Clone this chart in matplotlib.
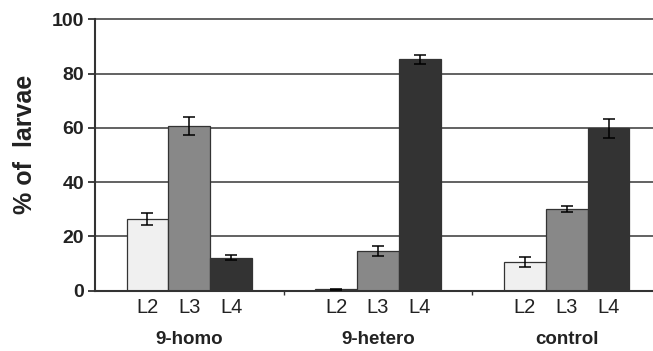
import matplotlib
matplotlib.use("Agg")
import matplotlib.pyplot as plt
import matplotlib.transforms as mtransforms
import numpy as np

groups = ["9-homo", "9-hetero", "control"]
stages = ["L2", "L3", "L4"]
values = {
    "L2": [26.3, 0.5, 10.6],
    "L3": [60.6, 14.7, 30.1],
    "L4": [12.2, 85.3, 59.8],
}
errors = {
    "L2": [2.2, 0.3, 2.0],
    "L3": [3.3, 1.8, 1.2],
    "L4": [0.8, 1.6, 3.6],
}
colors = {"L2": "#f0f0f0", "L3": "#888888", "L4": "#333333"}
yticks = [0, 20, 40, 60, 80, 100]

plt.rcParams['font.family'] = ['Liberation Sans', 'DejaVu Sans']

fig = plt.figure(figsize=(6.53, 3.51), dpi=100)
ax = fig.add_axes([95/653, 60.3/351, 566/653, 271.4/351])

w = 0.222
x = np.arange(len(groups))
offsets = {"L2": -w, "L3": 0.0, "L4": w}

for gy in yticks[1:]:
    ax.axhline(gy, color="#555555", lw=1.3, zorder=0, clip_on=False)

for s in stages:
    xs = x + offsets[s]
    ax.bar(xs, values[s], width=w, color=colors[s], edgecolor="#333333",
           linewidth=0.9, zorder=2)
    ax.errorbar(xs, values[s], yerr=errors[s], fmt="none", ecolor="black",
                elinewidth=1.1, capsize=4, capthick=1.1, zorder=3)

tick_pos = []
tick_lab = []
for i in range(len(groups)):
    for s in stages:
        tick_pos.append(x[i] + offsets[s])
        tick_lab.append(s)

ax.set_xlim(-0.5, 2.5)
ax.set_ylim(0, 100)
ax.set_xticks(tick_pos)
ax.set_xticklabels(tick_lab, fontsize=14.5, color="#222222")
ax.tick_params(axis="x", which="major", length=0, pad=5)
ax.set_xticks([0.5, 1.5], minor=True)
ax.tick_params(axis="x", which="minor", length=3, width=1, color="#333333")

ax.set_yticks(yticks)
ax.set_yticklabels([str(v) for v in yticks], fontsize=14, fontweight="bold",
                   color="#222222")
ax.tick_params(axis="y", length=5, width=1.3, color="#333333", pad=3)

for sp in ["top", "right"]:
    ax.spines[sp].set_visible(False)
for sp in ["left", "bottom"]:
    ax.spines[sp].set_color("#333333")
    ax.spines[sp].set_linewidth(1.5)

trans = mtransforms.blended_transform_factory(ax.transData, fig.transFigure)
for i, g in enumerate(groups):
    ax.text(x[i], 1 - 340/351, g, transform=trans, ha="center", va="center",
            fontsize=13.5, fontweight="bold", color="#222222")

fig.text(25/653, 1 - 144/351, "% of  larvae", rotation=90, ha="center",
         va="center", fontsize=18, fontweight="bold", color="#222222")

fig.savefig("out.png", dpi=100, facecolor="white")
